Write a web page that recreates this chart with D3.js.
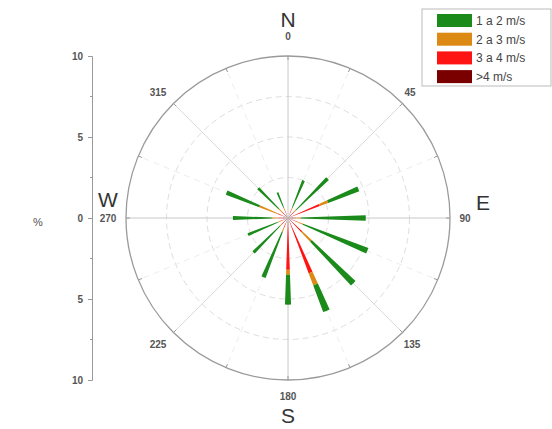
<!DOCTYPE html>
<html>
<head>
<meta charset="UTF-8">
<title>Rosa de los vientos</title>
<script src="https://cdn.jsdelivr.net/npm/d3@7"></script>
<style>
    body{margin:0;background:#fff;}
    text{font-family:Arial,"Liberation Sans",sans-serif;}
</style>
</head>
<body>
<div id="chart"></div>
<script>
    // wind directions (deg) and frequency (%) for each speed class
    var directions=[0,22.5,45,67.5,90,112.5,135,157.5,180,202.5,225,247.5,270,292.5,315,337.5];
    var over4 =[0,0.3,0.3,0.3,0.3,0.3,0.3,0.4,0.4,0.3,0.3,0.3,0.3,0.3,0.3,0.3];
    var s3to4 =[0,0.2,0.2,1.8,0.2,0.3,0.9,3.25,2.8,0.3,0.2,0.2,0.3,0.4,0.2,0.2];
    var s2to3 =[0,0.2,0.2,0.55,0.3,0.4,0.8,0.8,0.3,0.3,0.2,0.2,0.4,1.2,0.3,0.2];
    var s1to2 =[0,1.8,2.75,2.05,4.0,4.3,3.7,1.75,1.85,3.05,2.3,1.97,2.4,2.2,1.8,1.0];
    var legendLabels=['1 a 2 m/s','2 a 3 m/s','3 a 4 m/s','>4 m/s'];
    var legendColors=['#1a8a1a','#dc8a14','#ff1414','#7a0000'];
    var axisTicks=[-10,-5,0,5,10];

    var width=552,height=429;
    var cx=288,cy=218,R=162;

    var svg=d3.select('#chart').append('svg')
            .attr('width',width)
            .attr('height',height);

    var r=d3.scaleLinear().domain([0,10]).range([0,R]);
    var rad=function(deg){return deg*Math.PI/180;};

    var g=svg.append('g').attr('transform','translate('+cx+','+cy+')');

    // grid circles
    g.selectAll('.ring')
            .data([2.5,5,7.5])
            .enter()
            .append('circle')
            .attr('r',function(d){return r(d);})
            .style('fill','none')
            .style('stroke','#dedede')
            .style('stroke-width',1)
            .style('stroke-dasharray','6,4');

    // minor radial lines (22.5 offsets)
    g.selectAll('.minor')
            .data(directions.filter(function(d){return d%45!=0;}))
            .enter()
            .append('line')
            .attr('x1',function(d){return r(2.5)*Math.sin(rad(d));})
            .attr('y1',function(d){return -r(2.5)*Math.cos(rad(d));})
            .attr('x2',function(d){return r(10)*Math.sin(rad(d));})
            .attr('y2',function(d){return -r(10)*Math.cos(rad(d));})
            .style('stroke','#ededed')
            .style('stroke-dasharray','6,5');

    // major radial lines
    g.selectAll('.spoke')
            .data([0,45,90,135,180,225,270,315])
            .enter()
            .append('line')
            .attr('x1',0).attr('y1',0)
            .attr('x2',function(d){return r(10)*Math.sin(rad(d));})
            .attr('y2',function(d){return -r(10)*Math.cos(rad(d));})
            .style('stroke',function(d){return d%90==0?'#c8c8c8':'#dadada';})
            .style('stroke-width',1);

    // outer circle + small ticks
    g.append('circle')
            .attr('r',r(10))
            .style('fill','none')
            .style('stroke','#9a9a9a')
            .style('stroke-width',1.3);
    g.selectAll('.otick')
            .data(directions)
            .enter()
            .append('line')
            .attr('x1',function(d){return r(10)*Math.sin(rad(d));})
            .attr('y1',function(d){return -r(10)*Math.cos(rad(d));})
            .attr('x2',function(d){return (r(10)-4)*Math.sin(rad(d));})
            .attr('y2',function(d){return -(r(10)-4)*Math.cos(rad(d));})
            .style('stroke','#9a9a9a');

    // stacked petals
    var rows=directions.map(function(d,i){
        return {dir:d,over4:over4[i],s34:s3to4[i],s23:s2to3[i],s12:s1to2[i]};
    });
    var keys=['over4','s34','s23','s12'];
    var colorOf={over4:legendColors[3],s34:legendColors[2],s23:legendColors[1],s12:legendColors[0]};
    var series=d3.stack().keys(keys)(rows);
    var arc=d3.arc();
    var half=2;

    var layer=g.selectAll('.layer')
            .data(series)
            .enter()
            .append('g')
            .attr('class','layer')
            .style('fill',function(d){return colorOf[d.key];});
    layer.selectAll('path')
            .data(function(d){return d;})
            .enter()
            .append('path')
            .attr('d',function(d){
                return arc({
                    innerRadius:r(d[0]),
                    outerRadius:r(d[1]),
                    startAngle:rad(d.data.dir-half),
                    endAngle:rad(d.data.dir+half)
                });
            });

    // degree labels
    var degLabels=[
        {t:'0',x:0,y:-178},{t:'45',x:122,y:-122},{t:'90',x:177,y:4},{t:'135',x:124,y:130},
        {t:'180',x:0,y:182},{t:'225',x:-130,y:130},{t:'270',x:-180,y:4},{t:'315',x:-130,y:-122}
    ];
    g.selectAll('.deg')
            .data(degLabels)
            .enter()
            .append('text')
            .attr('x',function(d){return d.x;})
            .attr('y',function(d){return d.y;})
            .attr('text-anchor','middle')
            .style('font-size','10px')
            .style('font-weight','bold')
            .style('fill','#555')
            .text(function(d){return d.t;});

    var compass=[{t:'N',x:0,y:-191},{t:'E',x:195,y:-8},{t:'S',x:0,y:205},{t:'W',x:-180,y:-11}];
    g.selectAll('.cmp')
            .data(compass)
            .enter()
            .append('text')
            .attr('x',function(d){return d.x;})
            .attr('y',function(d){return d.y;})
            .attr('text-anchor','middle')
            .style('font-size','21px')
            .style('fill','#333')
            .text(function(d){return d.t;});

    // left % axis
    var yAxisScale=d3.scaleLinear().domain([-10,10]).range([cy+R,cy-R]);
    var axisG=svg.append('g').attr('transform','translate(92,0)');
    axisG.call(d3.axisLeft(yAxisScale)
            .tickValues(axisTicks)
            .tickSize(4)
            .tickFormat(function(d){return Math.abs(d);}));
    axisG.selectAll('.minort')
            .data([-7.5,-2.5,2.5,7.5])
            .enter()
            .append('line')
            .attr('x1',0).attr('x2',-2)
            .attr('y1',function(d){return yAxisScale(d);})
            .attr('y2',function(d){return yAxisScale(d);})
            .style('stroke','#999');
    axisG.select('.domain').style('stroke','#999');
    axisG.selectAll('.tick line').style('stroke','#999');
    axisG.selectAll('.tick text')
            .style('font-size','10px')
            .style('font-weight','bold')
            .style('fill','#555')
            .attr('x',-9);
    svg.append('text')
            .attr('x',38)
            .attr('y',226)
            .attr('text-anchor','middle')
            .style('font-size','11px')
            .style('fill','#555')
            .text('%');

    // legend
    var lg=svg.append('g').attr('transform','translate(422,9)');
    lg.append('rect')
            .attr('width',129).attr('height',77)
            .style('fill','#fff')
            .style('stroke','#bbb');
    var item=lg.selectAll('.item')
            .data(legendLabels)
            .enter()
            .append('g')
            .attr('transform',function(d,i){return 'translate(15,'+(5+i*18.7)+')';});
    item.append('rect')
            .attr('width',35).attr('height',13)
            .style('fill',function(d,i){return legendColors[i];});
    item.append('text')
            .attr('x',39).attr('y',11)
            .style('font-size','12px')
            .style('fill','#444')
            .text(function(d){return d;});
</script>
</body>
</html>
